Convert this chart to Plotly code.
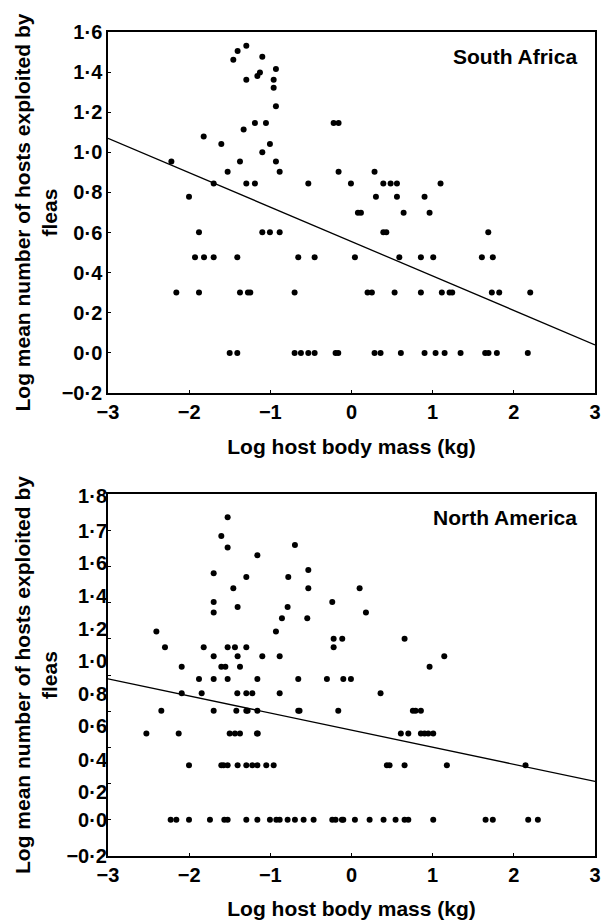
import plotly.graph_objects as go

# ---------------- data ----------------
# South Africa: log host body mass (kg) vs log mean number of hosts exploited by fleas
sa_mass = [
    -1.501, -1.407, -0.701, -0.623, -0.532, -0.454, -0.196, -0.163, 0.284, 0.358,
    0.608, 0.900, 1.036, 1.147, 1.344, 1.647, 1.688, 1.791, 2.172,
    -2.158, -1.879, -1.374, -1.276, -1.247, -0.701, 0.198, 0.251, 0.531, 0.855,
    1.113, 1.208, 1.241, 1.729, 1.820, 2.202,
    -1.928, -1.817, -1.698, -1.407, -0.656, -0.454, 0.042, 0.589, 0.855, 1.007,
    1.606, 1.741,
    -1.879, -1.099, -1.005, -0.885, 0.392, 0.429, 1.685,
    0.079, 0.116, 0.642, 0.962,
    -2.002, 0.301, 0.560, 0.900,
    -1.698, -1.296, -1.190, -0.532, -0.007, 0.392, 0.482, 0.560, 1.097,
    -1.526, -0.885, -0.159, 0.284,
    -2.219, -1.374, -0.931,
    -1.099, -1.604, -1.005, -1.821, -1.329,
    -1.190, -1.054, -0.220, -0.159,
    -0.931, -0.959, -1.296, -0.959, -1.160, -1.128, -0.931, -1.456, -1.099,
    -1.403, -1.296,
]
sa_hosts = [
    0.0, 0.0, 0.0, 0.0, 0.0, 0.0, 0.0, 0.0, 0.0, 0.0,
    0.0, 0.0, 0.0, 0.0, 0.0, 0.0, 0.0, 0.0, 0.0,
    0.301, 0.301, 0.301, 0.301, 0.301, 0.301, 0.301, 0.301, 0.301, 0.301,
    0.301, 0.301, 0.301, 0.301, 0.301, 0.301,
    0.477, 0.477, 0.477, 0.477, 0.477, 0.477, 0.477, 0.477, 0.477, 0.477,
    0.477, 0.477,
    0.602, 0.602, 0.602, 0.602, 0.602, 0.602, 0.602,
    0.699, 0.699, 0.699, 0.699,
    0.778, 0.778, 0.778, 0.778,
    0.845, 0.845, 0.845, 0.845, 0.845, 0.845, 0.845, 0.845, 0.845,
    0.903, 0.903, 0.903, 0.903,
    0.954, 0.954, 0.954,
    1.000, 1.041, 1.041, 1.079, 1.114,
    1.146, 1.146, 1.146, 1.146,
    1.230, 1.322, 1.362, 1.362, 1.380, 1.398, 1.415, 1.462, 1.477,
    1.505, 1.531,
]

# North America
na_mass = [
    -2.228, -2.158, -2.002, -1.744, -1.567, -1.526, -1.296, -1.160, -1.005, -0.926,
    -0.885, -0.787, -0.697, -0.590, -0.467, -0.237, -0.196, -0.118, -0.101, 0.042,
    0.223, 0.395, 0.543, 0.654, 0.700, 1.007, 1.652, 1.741, 2.177, 2.296,
    -2.002, -1.604, -1.576, -1.526, -1.403, -1.296, -1.222, -1.160, -1.050, -0.959,
    0.436, 0.469, 0.654, 1.175, 2.144,
    -2.527, -2.129, -1.501, -1.436, -1.374, -1.165, -1.155, 0.608, 0.700, 0.855,
    0.900, 0.946, 1.007,
    -2.343, -1.698, -1.419, -1.296, -1.280, -1.160, -0.656, -0.640, -0.163, 0.756,
    0.789, 0.855,
    -2.092, -1.846, -1.407, -1.296, -1.222, -0.885, 0.358,
    -1.879, -1.698, -1.526, -1.160, -0.656, -0.303, -0.101, -0.007,
    -2.092, -1.604, -1.554, -1.374, 0.962,
    -1.698, -1.403, -1.099, -0.885, 1.143,
    -2.298, -1.821, -1.526, -1.436, -1.296, -0.220,
    -0.220, -0.114, 0.654,
    -2.404, -0.931,
    -0.857, -0.545,
    -1.698, 0.178,
    -1.403, -0.787,
    -1.698, -0.237,
    -1.456, -0.532, 0.100,
    -1.296, -0.779,
    -1.698, -0.532, -1.160, -1.526, -0.697, -1.604, -1.526,
]
na_hosts = (
    [0.0] * 30
    + [0.301] * 15
    + [0.477] * 13
    + [0.602] * 12
    + [0.699] * 7
    + [0.778] * 8
    + [0.845] * 5
    + [0.903] * 5
    + [0.954] * 6
    + [1.000] * 3
    + [1.041] * 2
    + [1.114] * 2
    + [1.146] * 2
    + [1.176] * 2
    + [1.204] * 2
    + [1.279] * 3
    + [1.342] * 2
    + [1.362, 1.380, 1.462, 1.505, 1.519, 1.568, 1.672]
)

# fitted regression lines (at x = -3 and x = 3)
fit_mass = [-3, 3]
sa_fit = [1.07, 0.04]
na_fit = [0.779, 0.212]

# ticks
x_ticks = [-3, -2, -1, 0, 1, 2, 3]
x_tick_text = ["\u22123", "\u22122", "\u22121", "0", "1", "2", "3"]
sa_y_ticks = [-0.2, 0.0, 0.2, 0.4, 0.6, 0.8, 1.0, 1.2, 1.4, 1.6]
sa_y_tick_text = ["\u22120\u00b72", "0\u00b70", "0\u00b72", "0\u00b74", "0\u00b76",
                  "0\u00b78", "1\u00b70", "1\u00b72", "1\u00b74", "1\u00b76"]
na_y_ticks = [-0.2, 0.0, 0.2, 0.4, 0.6, 0.8, 1.0, 1.2, 1.4, 1.6, 1.8]
# the printed labels of the lower panel sit at slightly different heights than its tick marks
na_label_pos = [-0.2, 0.0, 0.151, 0.331, 0.516, 0.694, 0.880, 1.054, 1.238, 1.418, 1.597, 1.79]
na_label_text = ["\u22120\u00b72", "0\u00b70", "0\u00b72", "0\u00b74", "0\u00b76", "0\u00b78",
                 "1\u00b70", "1\u00b72", "1\u00b74", "1\u00b76", "1\u00b77", "1\u00b78"]

x_title = "Log host body mass (kg)"
y_title = "Log mean number of hosts exploited by<br>fleas"

# ---------------- figure ----------------
FONT = "Liberation Sans, Arial, Helvetica, sans-serif"
fig = go.Figure()

marker = dict(color="black", size=6, line=dict(width=0))
fig.add_trace(go.Scatter(x=sa_mass, y=sa_hosts, mode="markers", marker=marker,
                         xaxis="x", yaxis="y", showlegend=False))
fig.add_trace(go.Scatter(x=fit_mass, y=sa_fit, mode="lines",
                         line=dict(color="black", width=1.3),
                         xaxis="x", yaxis="y", showlegend=False))
fig.add_trace(go.Scatter(x=na_mass, y=na_hosts, mode="markers", marker=marker,
                         xaxis="x2", yaxis="y2", showlegend=False))
fig.add_trace(go.Scatter(x=fit_mass, y=na_fit, mode="lines",
                         line=dict(color="black", width=1.3),
                         xaxis="x2", yaxis="y2", showlegend=False))
fig.add_trace(go.Scatter(x=[], y=[], mode="markers", xaxis="x2", yaxis="y3",
                         showlegend=False, hoverinfo="skip"))

tickfont = dict(family=FONT, size=20, color="black", weight="bold")
titlefont = dict(family=FONT, size=21, color="black", weight="bold")

def xax(anchor):
    return dict(anchor=anchor, range=[-3, 3], tickvals=x_ticks, ticktext=x_tick_text,
                ticks="inside", ticklen=3, tickwidth=1, tickcolor="black",
                showline=True, linecolor="black", linewidth=1.5, mirror=True,
                showgrid=False, zeroline=False, tickfont=tickfont, automargin=False,
                title=dict(text=x_title, font=titlefont, standoff=18))

top_dom = [0.5619, 1.0]
bot_dom = [0.0, 0.4393]

# page body has an 8px margin, so the figure is offset by 8px right and down
fig.update_layout(
    width=604, height=912,
    margin=dict(l=100, r=17, t=24, b=64),
    paper_bgcolor="white", plot_bgcolor="white",
    font=dict(family=FONT, color="black"),
    xaxis=xax("y"),
    xaxis2=xax("y2"),
    yaxis=dict(anchor="x", domain=top_dom, range=[-0.2, 1.6],
               tickvals=sa_y_ticks, ticktext=sa_y_tick_text,
               ticks="inside", ticklen=3, tickwidth=1, tickcolor="black",
               showline=True, linecolor="black", linewidth=1.5, mirror=True,
               showgrid=False, zeroline=False, tickfont=tickfont, automargin=False),
    yaxis2=dict(anchor="x2", domain=bot_dom, range=[-0.2, 1.8],
                tickvals=na_y_ticks, ticktext=[""] * len(na_y_ticks),
                ticks="inside", ticklen=3, tickwidth=1, tickcolor="black",
                showline=True, linecolor="black", linewidth=1.5, mirror=True,
                showgrid=False, zeroline=False, tickfont=tickfont, automargin=False),
    yaxis3=dict(overlaying="y2", anchor="x2", side="left", range=[-0.2, 1.8],
                tickvals=na_label_pos, ticktext=na_label_text, ticks="",
                showline=False, showgrid=False, zeroline=False, tickfont=tickfont,
                automargin=False),
)

annotations = [
    dict(text=y_title, textangle=-90, xref="paper", yref="paper",
         x=-0.1478, y=0.781, xanchor="center", yanchor="middle",
         showarrow=False, font=titlefont),
    dict(text=y_title, textangle=-90, xref="paper", yref="paper",
         x=-0.1478, y=0.2197, xanchor="center", yanchor="middle",
         showarrow=False, font=titlefont),
    dict(text="South Africa", xref="paper", yref="paper", x=0.967, y=0.9697,
         xanchor="right", yanchor="middle", showarrow=False, font=titlefont),
    dict(text="North America", xref="paper", yref="paper", x=0.967, y=0.4114,
         xanchor="right", yanchor="middle", showarrow=False, font=titlefont),
]
fig.update_layout(annotations=annotations)

fig.write_html("out.html")
